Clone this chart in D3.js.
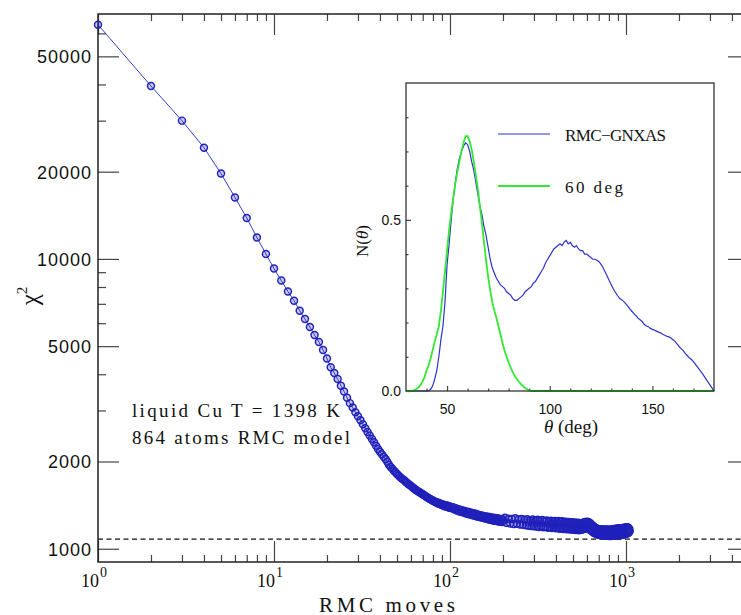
<!DOCTYPE html>
<html lang="en">
<head>
<meta charset="UTF-8">
<title>chi2 vs RMC moves</title>
<script src="https://cdn.jsdelivr.net/npm/d3@7"></script>
<style>
  body{margin:0;background:#fff}
  svg text{fill:#111}
  .sans{font-family:"Liberation Sans", Arial, sans-serif}
  .serif{font-family:"Liberation Serif", "Times New Roman", serif}
</style>
</head>
<body>
<svg></svg>
<script>
// ---- main panel: chi^2 against number of RMC moves ----
var moves = d3.range(1, 101).concat(d3.range(102, 201, 2), d3.range(205, 1051, 5))
var chi2 = [
  64300, 39500, 30000, 24200, 19700, 16300, 13850, 11850, 10400, 9260,
  8420, 7720, 7170, 6630, 6200, 5820, 5460, 5170, 4850, 4530,
  4230, 4040, 3850, 3650, 3490, 3320, 3180, 3070, 2960, 2865,
  2775, 2690, 2605, 2530, 2460, 2390, 2330, 2265, 2210, 2160,
  // 41 .. 100
  2120, 2075, 2040, 1995, 1950, 1915, 1890, 1858, 1835, 1810,
  1790, 1768, 1752, 1735, 1722, 1700, 1690, 1668, 1662, 1645,
  1632, 1618, 1610, 1596, 1585, 1575, 1570, 1556, 1550, 1538,
  1535, 1522, 1515, 1506, 1500, 1490, 1484, 1478, 1470, 1468,
  1458, 1455, 1446, 1448, 1436, 1440, 1428, 1432, 1418, 1424,
  1412, 1420, 1402, 1414, 1398, 1410, 1392, 1404, 1386, 1398,
  // 102 .. 200 step 2
  1378, 1392, 1365, 1380, 1352, 1370, 1342, 1360, 1335, 1352,
  1325, 1345, 1318, 1338, 1312, 1332, 1305, 1325, 1300, 1320,
  1292, 1312, 1288, 1306, 1282, 1302, 1278, 1296, 1272, 1292,
  1268, 1290, 1262, 1286, 1258, 1282, 1255, 1280, 1250, 1276,
  1248, 1274, 1245, 1272, 1242, 1268, 1240, 1265, 1236, 1262,
  // 205 .. 1050 step 5
  1280, 1228, 1270, 1222, 1266, 1216, 1275, 1220, 1262, 1212,
  1268, 1210, 1258, 1205, 1265, 1200, 1255, 1198, 1262, 1195,
  1250, 1192, 1258, 1188, 1248, 1194, 1256, 1186, 1245, 1190,
  1252, 1182, 1244, 1185, 1250, 1178, 1240, 1183, 1248, 1176,
  1238, 1180, 1246, 1172, 1236, 1178, 1244, 1170, 1232, 1176,
  1240, 1168, 1230, 1174, 1238, 1165, 1228, 1170, 1235, 1162,
  1226, 1168, 1232, 1160, 1225, 1165, 1230, 1158, 1222, 1164,
  1225, 1162, 1228, 1168, 1232, 1172, 1236, 1176, 1238, 1175,
  1240, 1172, 1235, 1165, 1228, 1158, 1215, 1148, 1200, 1140,
  1195, 1132, 1185, 1128, 1178, 1125, 1172, 1120, 1170, 1118,
  1168, 1116, 1166, 1114, 1165, 1112, 1164, 1110, 1163, 1112,
  1165, 1110, 1162, 1108, 1164, 1110, 1166, 1108, 1162, 1106,
  1160, 1108, 1162, 1106, 1164, 1110, 1166, 1108, 1168, 1110,
  1170, 1108, 1168, 1110, 1172, 1112, 1170, 1110, 1174, 1114,
  1172, 1112, 1176, 1114, 1175, 1116, 1178, 1118, 1176, 1120,
  1180, 1118, 1178, 1120, 1182, 1122, 1180, 1124, 1184, 1126,
  1182, 1128, 1186, 1130, 1184, 1132, 1180, 1140, 1170, 1150
]
var chi2Ref = 1080
var yMajor = [1000, 2000, 5000, 10000, 20000, 50000]
var yMinor = [3000, 4000, 6000, 7000, 8000, 9000, 30000, 40000, 60000]
var xDecades = [1, 10, 100, 1000]
var xExp = ['0', '1', '2', '3']

// ---- inset: bond angle distribution N(theta) ----
var theta = d3.range(30, 181)
var nRMC = [
  0, 0, 0, 0, 0, 0, 0, 0, 0, 0, 0, 0,
  0.005, 0.015, 0.035, 0.06, 0.10, 0.15, 0.19, 0.26, 0.37, 0.43,
  0.50, 0.56, 0.61, 0.65, 0.68, 0.70, 0.715, 0.725, 0.72, 0.70,
  0.67, 0.645, 0.61, 0.575, 0.54, 0.515, 0.48, 0.455, 0.42, 0.385,
  0.36, 0.345, 0.33, 0.32, 0.31, 0.305, 0.30, 0.29, 0.285, 0.28,
  0.27, 0.265, 0.265, 0.27, 0.275, 0.28, 0.29, 0.295, 0.30, 0.305,
  0.315, 0.32, 0.33, 0.34, 0.35, 0.36, 0.375, 0.385, 0.395, 0.405,
  0.415, 0.42, 0.425, 0.43, 0.425, 0.435, 0.44, 0.43, 0.435, 0.425,
  0.42, 0.425, 0.415, 0.41, 0.41, 0.40, 0.40, 0.395, 0.39, 0.385,
  0.385, 0.382, 0.378, 0.37, 0.36, 0.348, 0.335, 0.322, 0.31, 0.298,
  0.288, 0.279, 0.271, 0.267, 0.262, 0.255, 0.248, 0.24, 0.233, 0.226,
  0.22, 0.213, 0.208, 0.203, 0.195, 0.19, 0.188, 0.183, 0.18, 0.178,
  0.175, 0.172, 0.17, 0.166, 0.163, 0.16, 0.158, 0.155, 0.15, 0.145,
  0.138, 0.13, 0.124, 0.118, 0.11, 0.103, 0.097, 0.092, 0.086, 0.078,
  0.07, 0.062, 0.054, 0.045, 0.036, 0.027, 0.018, 0.009, 0
]
var n60 = [
  0, 0, 0, 0,
  0.003, 0.006, 0.01, 0.017, 0.027, 0.04, 0.06, 0.075, 0.095, 0.12,
  0.145, 0.165, 0.19, 0.235, 0.29, 0.35, 0.41, 0.47, 0.52, 0.565,
  0.605, 0.64, 0.67, 0.70, 0.725, 0.745, 0.745, 0.73, 0.705, 0.67,
  0.63, 0.59, 0.54, 0.49, 0.435, 0.38, 0.335, 0.295, 0.26, 0.235,
  0.215, 0.19, 0.165, 0.14, 0.118, 0.10, 0.083, 0.068, 0.055, 0.044,
  0.035, 0.027, 0.02, 0.014, 0.009, 0.005, 0.002, 0, 0, 0,
  0, 0, 0, 0, 0, 0, 0, 0, 0, 0, 0, 0, 0, 0, 0, 0, 0, 0, 0, 0,
  0, 0, 0, 0, 0, 0, 0, 0, 0, 0, 0, 0, 0, 0, 0, 0, 0, 0, 0, 0,
  0, 0, 0, 0, 0, 0, 0, 0, 0, 0, 0, 0, 0, 0, 0, 0, 0, 0, 0, 0,
  0, 0, 0, 0, 0, 0, 0, 0, 0, 0, 0, 0, 0, 0, 0, 0, 0, 0, 0, 0,
  0, 0, 0, 0, 0, 0, 0
]
var insetXTicks = [50, 100, 150]
var insetYTicks = [0, 0.5]
var legendNames = ['RMC\u2212GNXAS', '60 deg']

var W = 741, H = 615
var svg = d3.select('svg').attr('width', W).attr('height', H)

// main frame (right edge sits just outside the window)
var m = {left: 98, top: 14, right: 749, bottom: 562}
var x = d3.scaleLog().domain([1, 5000]).range([m.left, m.right])
var y = d3.scaleLog().domain([900, 70000]).range([m.bottom, m.top])

var xMinor = []
xDecades.forEach(function (d) {
  for (var k = 2; k <= 9; k++) if (d * k <= 5000) xMinor.push(d * k)
})

function noDomain(g) { g.select('.domain').remove() }
function tickStyle(g) { g.selectAll('line').attr('stroke', '#444').attr('stroke-width', 1.2) }

// x ticks, bottom and top
svg.append('g').attr('transform', 'translate(0,' + m.bottom + ')')
  .call(d3.axisBottom(x).tickValues(xMinor).tickSize(-7).tickFormat('')).call(noDomain).call(tickStyle)
svg.append('g').attr('transform', 'translate(0,' + m.bottom + ')')
  .call(d3.axisBottom(x).tickValues(xDecades).tickSize(-21).tickFormat('')).call(noDomain).call(tickStyle)
svg.append('g').attr('transform', 'translate(0,' + m.top + ')')
  .call(d3.axisTop(x).tickValues(xMinor).tickSize(-7).tickFormat('')).call(noDomain).call(tickStyle)
svg.append('g').attr('transform', 'translate(0,' + m.top + ')')
  .call(d3.axisTop(x).tickValues(xDecades).tickSize(-21).tickFormat('')).call(noDomain).call(tickStyle)

// y ticks, left (with labels) and right
var yl = svg.append('g').attr('transform', 'translate(' + m.left + ',0)')
  .call(d3.axisLeft(y).tickValues(yMajor).tickSize(-21).tickPadding(6).tickFormat(d3.format('d')))
  .call(noDomain).call(tickStyle)
yl.selectAll('text').attr('class', 'sans').style('font-size', '18px').style('letter-spacing', '1px')
  .attr('fill', '#111').attr('dy', '0.36em')
svg.append('g').attr('transform', 'translate(' + m.left + ',0)')
  .call(d3.axisLeft(y).tickValues(yMinor).tickSize(-8).tickFormat('')).call(noDomain).call(tickStyle)
svg.append('g').attr('transform', 'translate(' + m.right + ',0)')
  .call(d3.axisRight(y).tickValues(yMajor).tickSize(-21).tickFormat('')).call(noDomain).call(tickStyle)
svg.append('g').attr('transform', 'translate(' + m.right + ',0)')
  .call(d3.axisRight(y).tickValues(yMinor).tickSize(-8).tickFormat('')).call(noDomain).call(tickStyle)

// frame
svg.append('rect').attr('x', m.left).attr('y', m.top)
  .attr('width', m.right - m.left).attr('height', m.bottom - m.top)
  .attr('fill', 'none').attr('stroke', '#222').attr('stroke-width', 1.5)

// x tick labels: 10^n, one text each with a raised exponent
xDecades.forEach(function (d, i) {
  var t = svg.append('text').attr('class', 'serif').attr('x', x(d) - 17).attr('y', 587)
    .style('font-size', '18px')
  t.append('tspan').text('10')
  t.append('tspan').attr('dx', 1).attr('dy', -10).style('font-size', '14px').text(xExp[i])
})

// axis titles
svg.append('text').attr('class', 'serif').attr('x', 387).attr('y', 611.5)
  .attr('text-anchor', 'middle').style('font-size', '21px')
  .attr('textLength', 136).attr('lengthAdjust', 'spacing').text('RMC moves')
var yt = svg.append('text').attr('class', 'serif')
  .attr('transform', 'translate(38,296) rotate(-90)').attr('text-anchor', 'middle')
  .style('font-size', '25px')
yt.append('tspan').text('\u03c7')
yt.append('tspan').attr('dy', -11).style('font-size', '15px').text('2')

// reference level
svg.append('line').attr('x1', m.left).attr('x2', m.right)
  .attr('y1', y(chi2Ref)).attr('y2', y(chi2Ref))
  .attr('stroke', '#111').attr('stroke-width', 1.2).attr('stroke-dasharray', '5,3.5')

// curve and markers
var pts = moves.map(function (n, i) { return [n, chi2[i]] })
svg.append('path').datum(pts)
  .attr('d', d3.line().x(function (d) { return x(d[0]) }).y(function (d) { return y(d[1]) }))
  .attr('fill', 'none').attr('stroke', '#3340cc').attr('stroke-width', 1)
svg.append('g').selectAll('circle').data(pts).enter().append('circle')
  .attr('cx', function (d) { return x(d[0]) })
  .attr('cy', function (d) { return y(d[1]) })
  .attr('r', 3.5).attr('fill', 'rgba(40,40,190,0.25)').attr('stroke', '#2020bb').attr('stroke-width', 1.45)

// annotation
svg.append('text').attr('class', 'serif').attr('x', 132).attr('y', 417).style('font-size', '19px')
  .attr('textLength', 208).attr('lengthAdjust', 'spacing').text('liquid Cu T = 1398 K')
svg.append('text').attr('class', 'serif').attr('x', 132).attr('y', 444).style('font-size', '19px')
  .attr('textLength', 218).attr('lengthAdjust', 'spacing').text('864 atoms RMC model')

// ---- inset ----
var ib = {left: 406, top: 83, right: 714, bottom: 391}
var ix = d3.scaleLinear().domain([30, 180]).range([ib.left, ib.right])
var iy = d3.scaleLinear().domain([0, 0.9]).range([ib.bottom, ib.top])

svg.append('rect').attr('x', ib.left).attr('y', ib.top)
  .attr('width', ib.right - ib.left).attr('height', ib.bottom - ib.top)
  .attr('fill', '#fff').attr('stroke', 'none')

var ixMinor = d3.range(40, 180, 10).filter(function (v) { return insetXTicks.indexOf(v) < 0 })
var iyMinor = [0.1, 0.2, 0.3, 0.4, 0.6, 0.7, 0.8]
svg.append('g').attr('transform', 'translate(0,' + ib.bottom + ')')
  .call(d3.axisBottom(ix).tickValues(ixMinor).tickSize(-2.5).tickFormat('')).call(noDomain).call(tickStyle)
var ixa = svg.append('g').attr('transform', 'translate(0,' + ib.bottom + ')')
  .call(d3.axisBottom(ix).tickValues(insetXTicks).tickSize(-5).tickPadding(13).tickFormat(d3.format('d')))
  .call(noDomain).call(tickStyle)
ixa.selectAll('text').attr('class', 'sans').style('font-size', '14px').attr('fill', '#111')
svg.append('g').attr('transform', 'translate(' + ib.left + ',0)')
  .call(d3.axisLeft(iy).tickValues(iyMinor).tickSize(-2.5).tickFormat('')).call(noDomain).call(tickStyle)
var iya = svg.append('g').attr('transform', 'translate(' + ib.left + ',0)')
  .call(d3.axisLeft(iy).tickValues(insetYTicks).tickSize(-5).tickPadding(5).tickFormat(d3.format('.1f')))
  .call(noDomain).call(tickStyle)
iya.selectAll('text').attr('class', 'sans').style('font-size', '14px').attr('fill', '#111')

svg.append('path').datum(nRMC)
  .attr('d', d3.line().x(function (d, i) { return ix(theta[i]) }).y(function (d) { return iy(d) }))
  .attr('fill', 'none').attr('stroke', '#2a35cc').attr('stroke-width', 1.2)
svg.append('path').datum(n60)
  .attr('d', d3.line().x(function (d, i) { return ix(theta[i]) }).y(function (d) { return iy(d) }))
  .attr('fill', 'none').attr('stroke', '#33e833').attr('stroke-width', 1.8)

svg.append('rect').attr('x', ib.left).attr('y', ib.top)
  .attr('width', ib.right - ib.left).attr('height', ib.bottom - ib.top)
  .attr('fill', 'none').attr('stroke', '#222').attr('stroke-width', 1.2)

// inset legend
var legColors = ['#2a35cc', '#33e833'], legWidths = [1.2, 2.2], legY = [134, 186]
legendNames.forEach(function (name, i) {
  svg.append('line').attr('x1', 498).attr('x2', 550).attr('y1', legY[i]).attr('y2', legY[i])
    .attr('stroke', legColors[i]).attr('stroke-width', legWidths[i])
  svg.append('text').attr('class', 'serif').attr('x', 565).attr('y', legY[i] + 6.5)
    .style('font-size', '17px').attr('textLength', i === 0 ? 101 : 58).attr('lengthAdjust', 'spacing')
    .text(name)
})

// inset axis titles
var itx = svg.append('text').attr('class', 'serif').attr('x', 571).attr('y', 433)
  .attr('text-anchor', 'middle').style('font-size', '19px')
itx.append('tspan').style('font-style', 'italic').text('\u03b8')
itx.append('tspan').text(' (deg)')
var ity = svg.append('text').attr('class', 'serif')
  .attr('transform', 'translate(368,241) rotate(-90)').attr('text-anchor', 'middle')
  .style('font-size', '17px')
ity.append('tspan').text('N(')
ity.append('tspan').style('font-style', 'italic').text('\u03b8')
ity.append('tspan').text(')')
</script>
</body>
</html>
